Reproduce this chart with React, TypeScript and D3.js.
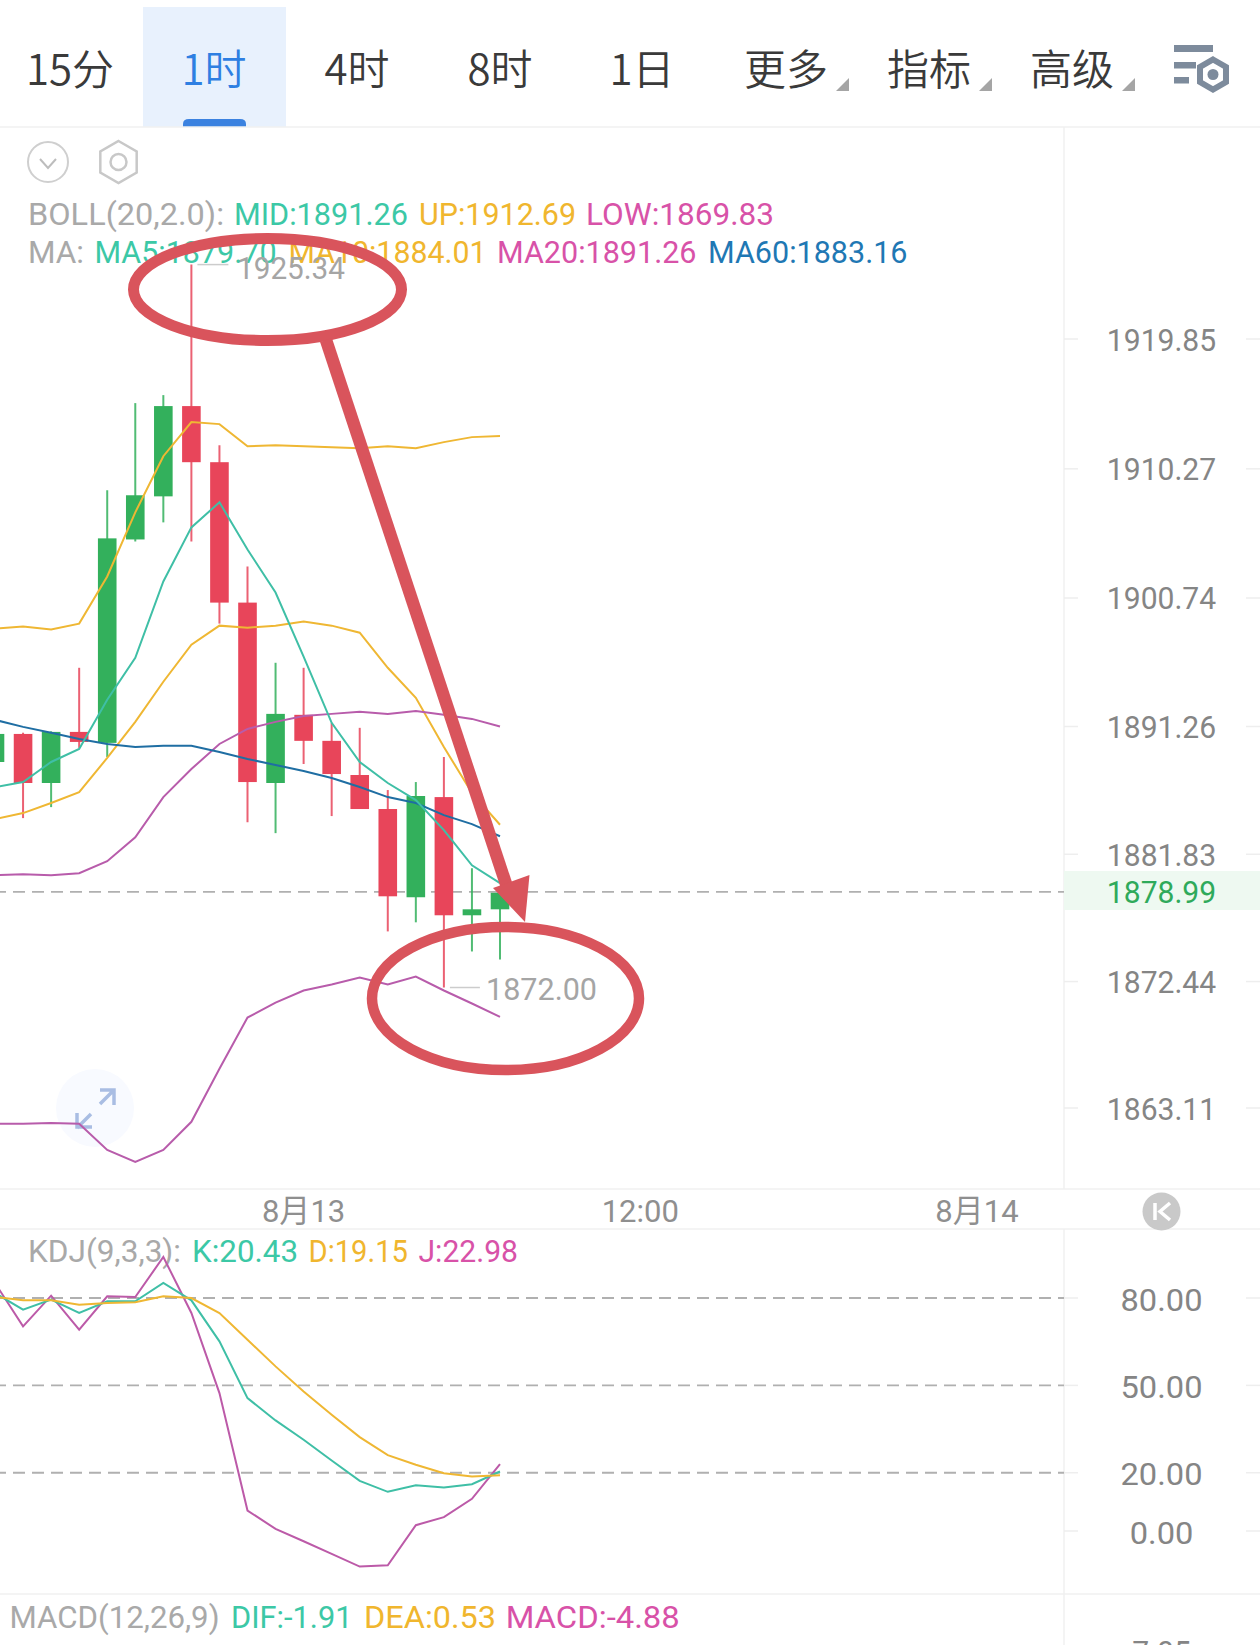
import React from 'react';
import * as d3 from 'd3';

const opens = [1888.64,1890.71,1887.09,1890.86,1890.05,1905.06,1908.24,1914.90,1910.76,1900.40,1887.09,1892.12,1890.20,1887.68,1885.17,1878.66,1886.05,1877.33,1877.77];
const closes = [1890.71,1887.09,1890.86,1890.12,1905.14,1908.32,1914.90,1910.76,1900.40,1887.16,1892.19,1890.20,1887.75,1885.17,1878.73,1886.13,1877.33,1877.77,1878.99];
const highs = [1891.5,1890.8,1890.9,1895.59,1908.69,1915.12,1915.71,1925.34,1912.01,1903.07,1895.96,1895.59,1891.53,1891.16,1886.57,1887.16,1889.01,1880.80,1878.99];
const lows = [1887.0,1884.50,1885.31,1889.68,1889.01,1904.91,1906.32,1904.91,1898.85,1884.20,1883.39,1888.49,1884.65,1885.17,1876.14,1876.81,1872.00,1874.66,1874.07];

const bollUp = [1898.48,1898.63,1898.41,1898.85,1902.33,1907.06,1911.20,1913.72,1913.57,1911.94,1912.01,1911.94,1911.87,1911.79,1911.94,1911.79,1912.24,1912.61,1912.69];
const bollLow = [1861.94,1861.94,1862.01,1861.94,1860.02,1859.13,1860.02,1862.09,1866.01,1869.78,1870.89,1871.78,1872.22,1872.74,1872.22,1872.81,1871.78,1870.82,1869.83];
const ma5 = [1886.79,1887.16,1888.64,1889.60,1893.23,1896.33,1901.96,1905.95,1907.80,1904.32,1901.14,1896.41,1891.53,1888.64,1887.09,1885.83,1883.61,1881.02,1879.70];
const ma10 = [1884.43,1884.87,1885.61,1886.42,1888.94,1891.60,1894.56,1897.30,1898.70,1898.55,1898.70,1899.00,1898.70,1898.18,1895.59,1893.38,1889.75,1886.35,1884.01];
const ma20 = [1880.28,1880.36,1880.28,1880.43,1881.32,1883.09,1886.05,1888.12,1889.97,1891.08,1891.60,1892.04,1892.19,1892.34,1892.19,1892.41,1892.12,1891.82,1891.26];
const ma60 = [1891.75,1891.23,1890.79,1890.34,1889.97,1889.75,1889.83,1889.83,1889.38,1888.86,1888.42,1887.98,1887.46,1886.79,1886.05,1885.61,1884.72,1884.06,1883.16];

const kdjK = [81.72,75.99,79.43,74.85,78.85,78.85,85.15,79.20,65.11,45.64,37.96,31.32,24.22,17.23,13.45,15.74,14.94,16.08,20.43];
const kdjD = [80.34,79.20,79.20,77.71,78.28,78.51,80.57,80.00,74.85,65.68,56.52,47.93,39.91,32.23,26.05,22.73,19.86,18.72,19.15];
const kdjJ = [85.15,70.26,80.80,69.12,80.57,80.34,94.09,74.85,47.35,7.03,0.73,-3.51,-7.86,-12.21,-11.75,1.99,4.74,11.04,22.98];

const priceTicks = [1919.85,1910.27,1900.74,1891.26,1881.83,1872.44,1863.11];
const kdjTicks = [80,50,20,0];
const kdjDashed = [80,50,20];
const lastPrice = 1878.99;
const highMark = 1925.34;
const lowMark = 1872.00;
const dateTicks = [{ i: 11, label: '8月13' }, { i: 23, label: '12:00' }, { i: 35, label: '8月14' }];
const tabs = [
  { label: '15分', cx: 70 }, { label: '1时', cx: 214, active: true }, { label: '4时', cx: 357 },
  { label: '8时', cx: 500 }, { label: '1日', cx: 642 }, { label: '更多', cx: 786, tri: true },
  { label: '指标', cx: 929, tri: true }, { label: '高级', cx: 1072, tri: true },
];

const TEAL = '#3cc8a6', YEL = '#f0b62e', MAG = '#d852a8', BLU = '#1f78b4';
const LEG_GRAY = '#a9a9a9', TICK_GRAY = '#858585';
const legendBoll = [
  { t: 'BOLL(20,2.0):', x: 28, w: 196, c: LEG_GRAY }, { t: 'MID:1891.26', x: 234, w: 174, c: TEAL },
  { t: 'UP:1912.69', x: 419, w: 157, c: YEL }, { t: 'LOW:1869.83', x: 586, w: 188, c: MAG },
];
const legendMa = [
  { t: 'MA:', x: 28, w: 56, c: LEG_GRAY }, { t: 'MA5:1879.70', x: 94.5, w: 182, c: TEAL },
  { t: 'MA10:1884.01', x: 288.5, w: 198, c: YEL }, { t: 'MA20:1891.26', x: 497, w: 199.5, c: MAG },
  { t: 'MA60:1883.16', x: 708, w: 199.5, c: BLU },
];
const legendKdj = [
  { t: 'KDJ(9,3,3):', x: 28, w: 153, c: LEG_GRAY }, { t: 'K:20.43', x: 192, w: 106, c: TEAL },
  { t: 'D:19.15', x: 308.5, w: 99.5, c: YEL }, { t: 'J:22.98', x: 418.5, w: 99.5, c: MAG },
];
const legendMacd = [
  { t: 'MACD(12,26,9)', x: 9.5, w: 210, c: LEG_GRAY }, { t: 'DIF:-1.91', x: 231, w: 121.5, c: TEAL },
  { t: 'DEA:0.53', x: 364, w: 132, c: YEL }, { t: 'MACD:-4.88', x: 505.7, w: 174, c: MAG },
];

const FONT = 'Roboto, "Noto Sans CJK SC", sans-serif';
const CJK = '"Noto Sans CJK SC", sans-serif';

const x = d3.scaleLinear().domain([0, 18]).range([-5, 500]);
const y = d3.scaleLinear().domain([1919.85, 1863.11]).range([339, 1108]);
const yK = d3.scaleLinear().domain([80, 0]).range([1298, 1531]);
const priceLine = d3.line<number>().x((_, i) => x(i)).y(d => y(d));
const kdjLine = d3.line<number>().x((_, i) => x(i)).y(d => yK(d));

const RED = '#e8455a', GREEN = '#33b05c', ANNO = '#d9545c', LINE = '#f1f1f1';
const AXIS_X = 1064, W = 1260, H = 1645;

const Fit = ({ t, x: px, base, w, c, size = 32 }: any) => (
  <text x={px} y={base} fontSize={size} fill={c} fontFamily={FONT} fontWeight={400}
    textLength={w} lengthAdjust="spacingAndGlyphs">{t}</text>
);
const Centered = ({ t, cx, base, c, sx = 0.94, size = 32, family = FONT, weight = 400 }: any) => (
  <text transform={`translate(${cx} ${base}) scale(${sx} 1)`} textAnchor="middle" fontSize={size}
    fill={c} fontFamily={family} fontWeight={weight}>{t}</text>
);

function Candles() {
  return (
    <g>
      {opens.map((o, i) => {
        const c = closes[i];
        const col = c >= o ? GREEN : RED;
        const top = y(Math.max(o, c));
        const bot = y(Math.min(o, c));
        return (
          <g key={i}>
            <line x1={x(i)} x2={x(i)} y1={y(highs[i])} y2={y(lows[i])} stroke={col} strokeWidth={2} strokeOpacity={0.85} />
            <rect x={x(i) - 9.3} width={18.6} y={top} height={Math.max(bot - top, 2)} fill={col} />
          </g>
        );
      })}
    </g>
  );
}

const Hexagon = ({ cx, cy, r, ...rest }: any) => {
  const pts = d3.range(6).map(k => {
    const a = Math.PI / 3 * k - Math.PI / 2;
    return `${cx + r * Math.cos(a)},${cy + r * Math.sin(a)}`;
  }).join(' ');
  return <polygon points={pts} {...rest} />;
};

export default function App() {
  return (
    <svg width={W} height={H} viewBox={`0 0 ${W} ${H}`} style={{ position: 'absolute', left: 0, top: 0, background: '#fff' }}>
      {/* toolbar */}
      <rect x={143} y={7} width={143} height={120} fill="#e8f1fd" />
      <path d="M183 127 V124 Q183 119 189 119 H240 Q246 119 246 124 V127 Z" fill="#3b82e0" />
      {tabs.map(t => (
        <g key={t.label}>
          <text x={t.cx} y={85} textAnchor="middle" fontSize={42} fontFamily={CJK} fontWeight={350}
            fill={t.active ? '#2e7fe2' : '#3a3a3a'}>{t.label}</text>
          {t.tri && <polygon points={`${t.cx + 50},91 ${t.cx + 63},91 ${t.cx + 63},78`} fill="#a5a5a5" />}
        </g>
      ))}
      <g fill="#7d8b9c">
        <rect x={1174} y={45} width={39} height={7} />
        <rect x={1174} y={62} width={22} height={6.5} />
        <rect x={1174} y={77} width={15} height={6.5} />
        <Hexagon cx={1213} cy={74.5} r={15} fill="#fff" stroke="#7d8b9c" strokeWidth={6} />
        <circle cx={1213} cy={74.5} r={5.5} />
      </g>
      <line x1={0} x2={W} y1={127} y2={127} stroke={LINE} strokeWidth={1.5} />
      <line x1={AXIS_X} x2={AXIS_X} y1={127} y2={1189} stroke={LINE} strokeWidth={1.5} />
      <line x1={AXIS_X} x2={AXIS_X} y1={1229} y2={H} stroke={LINE} strokeWidth={1.5} />
      <line x1={0} x2={W} y1={1189} y2={1189} stroke={LINE} strokeWidth={1.5} />
      <line x1={0} x2={W} y1={1229} y2={1229} stroke={LINE} strokeWidth={1.5} />
      <line x1={0} x2={W} y1={1594} y2={1594} stroke={LINE} strokeWidth={1.5} />

      {/* small icons */}
      <ellipse cx={48} cy={162} rx={20} ry={20} fill="none" stroke="#cfcfcf" strokeWidth={2} />
      <path d="M40 159 L48 168 L56 159" fill="none" stroke="#bdbdbd" strokeWidth={2} />
      <Hexagon cx={118.5} cy={162} r={21} fill="none" stroke="#c8c8c8" strokeWidth={2.5} />
      <circle cx={118.5} cy={162} r={8} fill="none" stroke="#c8c8c8" strokeWidth={2.5} />

      {/* expand button */}
      <circle cx={95} cy={1108} r={39} fill="#f8faff" />
      <g fill="none" stroke="#a9bde3" strokeWidth={3.5}>
        <path d="M100 1104 L114 1090 M100 1090 H114 V1105" />
        <path d="M91 1114 L77 1128 M77 1113 V1127 H92" />
      </g>

      {/* price pane */}
      <rect x={AXIS_X} y={871} width={W - AXIS_X} height={39} fill="#eef9f1" />
      {priceTicks.map(p => (
        <g key={p}>
          <line x1={AXIS_X} x2={AXIS_X + 14} y1={y(p)} y2={y(p)} stroke="#eeeeee" strokeWidth={1.5} />
          <line x1={W - 14} x2={W} y1={y(p)} y2={y(p)} stroke="#eeeeee" strokeWidth={1.5} />
          <Centered t={p.toFixed(2)} cx={1161.5} base={y(p) + 11.5} c={TICK_GRAY} />
        </g>
      ))}
      <line x1={0} x2={AXIS_X} y1={y(lastPrice) - 1} y2={y(lastPrice) - 1} stroke="#b0b0b0" strokeWidth={1.8} strokeDasharray="12 7" strokeDashoffset={6} />
      <Centered t={lastPrice.toFixed(2)} cx={1161.5} base={903} c="#2faa5b" />

      <Candles />
      <path d={priceLine(bollUp) || ''} fill="none" stroke="#efb733" strokeWidth={2} />
      <path d={priceLine(ma10) || ''} fill="none" stroke="#efb733" strokeWidth={2} />
      <path d={priceLine(ma20) || ''} fill="none" stroke="#b85cab" strokeWidth={2} />
      <path d={priceLine(bollLow) || ''} fill="none" stroke="#b85cab" strokeWidth={2} />
      <path d={priceLine(ma60) || ''} fill="none" stroke="#1f6ea3" strokeWidth={2} />
      <path d={priceLine(ma5) || ''} fill="none" stroke="#3fbfa6" strokeWidth={2} />

      {/* legends */}
      {legendBoll.map(l => <Fit key={l.t} {...l} base={225} />)}
      {legendMa.map(l => <Fit key={l.t} {...l} base={263} />)}
      {legendKdj.map(l => <Fit key={l.t} {...l} base={1262} />)}
      {legendMacd.map(l => <Fit key={l.t} {...l} base={1628} />)}

      {/* extreme labels */}
      <line x1={x(7) + 6} x2={x(7) + 37} y1={y(highMark)} y2={y(highMark)} stroke="#cccccc" strokeWidth={1.5} />
      <Fit t={highMark.toFixed(2)} x={237} base={279} w={108} c="#a5a5a5" />
      <line x1={x(16) + 6} x2={x(16) + 36} y1={y(lowMark)} y2={y(lowMark)} stroke="#cccccc" strokeWidth={1.5} />
      <Fit t={lowMark.toFixed(2)} x={486} base={1000} w={111} c="#a5a5a5" />

      {/* date axis */}
      {dateTicks.map(d => (
        <Centered key={d.label} t={d.label} cx={x(d.i)} base={1222} c="#8f8f8f" sx={0.97} />
      ))}
      <circle cx={1161.5} cy={1211.5} r={19} fill="#c9c9c9" />
      <path d="M1155 1203 V1220 M1170 1203 L1160 1211.5 L1170 1220" fill="none" stroke="#fff" strokeWidth={3.5} />

      {/* KDJ pane */}
      {kdjDashed.map(v => (
        <line key={v} x1={0} x2={AXIS_X} y1={yK(v)} y2={yK(v)} stroke="#b0b0b0" strokeWidth={1.8} strokeDasharray="12 7" strokeDashoffset={6} />
      ))}
      {kdjTicks.map(v => (
        <g key={v}>
          <line x1={AXIS_X} x2={AXIS_X + 14} y1={yK(v)} y2={yK(v)} stroke="#eeeeee" strokeWidth={1.5} />
          <line x1={W - 14} x2={W} y1={yK(v)} y2={yK(v)} stroke="#eeeeee" strokeWidth={1.5} />
          <text transform={`translate(1161.5 ${yK(v) + 12.5}) scale(1.02 1)`} textAnchor="middle" fontSize={32} fill={TICK_GRAY} fontFamily={FONT}>{v.toFixed(2)}</text>
        </g>
      ))}
      <path d={kdjLine(kdjJ) || ''} fill="none" stroke="#bc5aa8" strokeWidth={2} />
      <path d={kdjLine(kdjK) || ''} fill="none" stroke="#3fbfa6" strokeWidth={2} />
      <path d={kdjLine(kdjD) || ''} fill="none" stroke="#efb733" strokeWidth={2} />
      <Centered t="7.05" cx={1161.5} base={1663} c={TICK_GRAY} />

      {/* hand-drawn annotation */}
      <g fill="none" stroke={ANNO}>
        <ellipse cx={267.5} cy={289.5} rx={134} ry={51} strokeWidth={11} />
        <ellipse cx={505.5} cy={998.5} rx={133.5} ry={71.5} strokeWidth={10.5} />
        <line x1={326} x2={508} y1={340} y2={890} strokeWidth={12.5} />
      </g>
      <polygon points="529.5,875 493,888 525,922" fill={ANNO} />
    </svg>
  );
}
